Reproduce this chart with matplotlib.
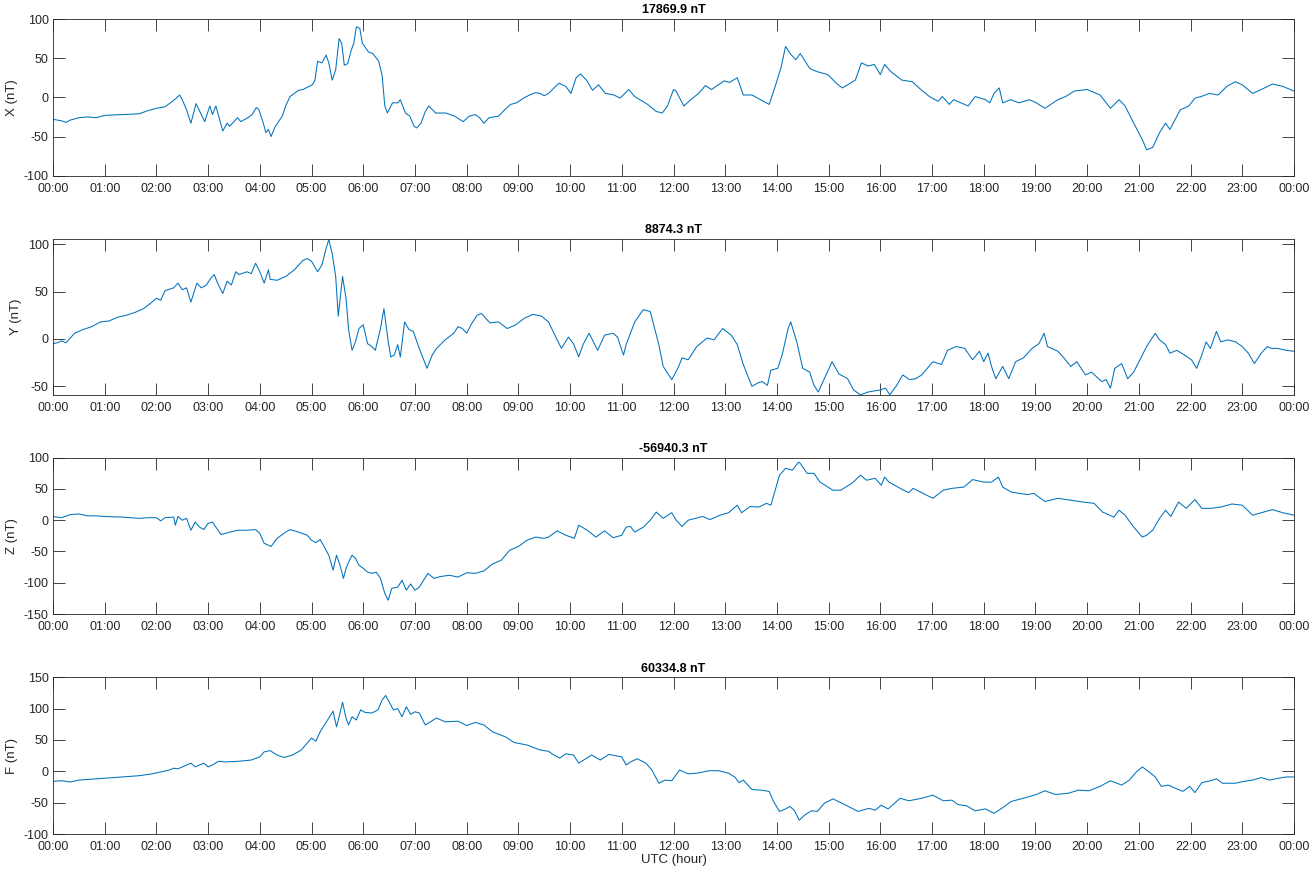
import matplotlib
matplotlib.use("Agg")
import matplotlib.pyplot as plt
import numpy as np

plt.rcParams['font.family'] = ['Liberation Sans', 'DejaVu Sans']
plt.rcParams['axes.unicode_minus'] = False

# ---------------- data ----------------
x_times = ["00:00","00:10","00:15","00:20","00:30","00:40","00:50","01:00","01:20","01:40","01:50",
           "02:00","02:10","02:15","02:20","02:27","02:30","02:35","02:40","02:46","02:56","03:02","03:05",
           "03:09","03:17","03:22","03:25","03:34","03:38","03:46","03:51","03:56","03:59","04:04","04:07",
           "04:10","04:13","04:18","04:26","04:30","04:35","04:40","04:45","04:50","04:57","05:01","05:04",
           "05:07","05:12","05:17","05:20","05:24","05:28","05:32","05:35","05:38","05:42","05:46","05:49",
           "05:52","05:56","05:59","06:06","06:11","06:18","06:22","06:25","06:28","06:34","06:40","06:43",
           "06:49","06:54","06:59","07:02","07:07","07:12","07:16","07:24","07:36","07:46","07:56","08:03",
           "08:10","08:15","08:20","08:26","08:37","08:44","08:51","08:58","09:06","09:13","09:20","09:25",
           "09:30","09:35","09:47","09:55","10:01","10:07","10:12","10:19","10:26","10:33","10:41","10:51",
           "10:58","11:08","11:15","11:30","11:40","11:47","11:53","12:00","12:03","12:10","12:12","12:20",
           "12:29","12:37","12:44","12:52","12:59","13:05","13:14","13:21","13:31","13:41","13:51","13:58",
           "14:05","14:10","14:16","14:22","14:27","14:38","14:46","14:59","15:09","15:16","15:31","15:38",
           "15:46","15:53","16:00","16:05","16:12","16:25","16:37","16:47","16:57","17:07","17:12","17:20",
           "17:25","17:42","17:50","18:02","18:07","18:12","18:18","18:22","18:31","18:41","18:53","19:01",
           "19:11","19:26","19:35","19:45","20:00","20:15","20:27","20:37","20:44","20:54","21:04","21:09",
           "21:16","21:24","21:31","21:36","21:48","21:58","22:05","22:12","22:22","22:32","22:42","22:52",
           "23:00","23:12","23:22","23:35","23:47","24:00"]
x_values = [-28,-30,-32,-29,-26,-25,-26,-23,-22,-21,-17,
            -14,-12,-8,-4,3,-3,-16,-33,-8,-31,-11,-22,
            -11,-43,-33,-37,-26,-31,-26,-22,-13,-16,-33,-45,
            -41,-50,-37,-24,-11,1,5,9,10,14,16,22,
            46,44,54,44,22,35,75,69,41,43,60,69,
            90,88,69,58,56,46,27,-11,-20,-7,-7,-3,
            -20,-24,-37,-39,-33,-18,-11,-20,-20,-24,-31,-24,
            -22,-26,-33,-26,-24,-16,-9,-7,-1,3,6,5,
            2,5,18,14,5,25,30,22,9,16,5,3,
            -1,10,1,-9,-18,-20,-11,10,8,-7,-11,-3,
            5,15,10,16,21,19,25,3,3,-3,-9,14,
            39,65,55,48,56,37,33,29,18,12,22,44,
            40,42,29,42,33,22,20,10,1,-5,1,-9,
            -3,-11,1,-3,-7,5,12,-7,-3,-7,-3,-7,
            -14,-3,1,8,10,3,-14,-3,-11,-33,-54,-67,
            -64,-45,-33,-41,-16,-11,-1,1,5,3,14,20,
            16,5,10,17,14,8]

y_times = ["00:00","00:05","00:10","00:15","00:20","00:25","00:35","00:45","00:55","01:05","01:15",
           "01:25","01:35","01:45","01:55","02:00","02:05","02:10","02:20","02:25","02:30","02:35","02:40",
           "02:47","02:52","02:58","03:03","03:07","03:12","03:17","03:22","03:27","03:32","03:36","03:45",
           "03:50","03:55","04:00","04:05","04:10","04:12","04:20","04:30","04:40","04:45","04:50","04:55",
           "05:00","05:07","05:12","05:17","05:20","05:24","05:28","05:31","05:36","05:40","05:43","05:47",
           "05:51","05:55","06:00","06:05","06:10","06:14","06:20","06:24","06:29","06:32","06:36","06:40",
           "06:43","06:48","06:53","06:58","07:05","07:14","07:20","07:25","07:35","07:45","07:50","07:55",
           "08:00","08:05","08:12","08:17","08:27","08:37","08:47","08:57","09:07","09:17","09:27","09:35",
           "09:45","09:50","09:58","10:04","10:10","10:15","10:22","10:32","10:40","10:50","10:55","11:02",
           "11:05","11:15","11:25","11:33","11:43","11:48","11:58","12:05","12:10","12:17","12:27","12:39",
           "12:47","12:57","13:07","13:14","13:21","13:31","13:39","13:43","13:49","13:53","14:01","14:06",
           "14:13","14:16","14:23","14:30","14:38","14:43","14:48","14:55","15:04","15:12","15:22","15:29",
           "15:37","15:46","15:59","16:06","16:11","16:19","16:26","16:34","16:41","16:48","17:01","17:11",
           "17:18","17:28","17:38","17:47","17:55","18:00","18:05","18:09","18:14","18:22","18:29","18:37",
           "18:46","18:56","19:04","19:10","19:14","19:26","19:33","19:41","19:48","19:58","20:05","20:17",
           "20:22","20:27","20:32","20:40","20:47","20:54","21:04","21:09","21:19","21:24","21:31","21:36",
           "21:44","21:53","22:01","22:07","22:13","22:18","22:23","22:30","22:35","22:43","22:52","23:00",
           "23:07","23:14","23:22","23:29","23:34","23:41","23:51","24:00"]
y_values = [-5,-4,-2,-4,1,6,10,13,18,19,23,
            25,28,32,39,43,41,51,54,59,52,54,39,
            59,54,57,64,68,57,48,61,57,71,68,71,
            69,80,71,59,73,63,62,66,73,78,83,85,
            82,71,78,96,105,90,66,24,66,43,10,-12,
            -3,11,15,-5,-8,-12,11,32,-3,-19,-17,-6,
            -19,18,10,8,-10,-31,-17,-10,-1,6,13,11,
            6,15,25,27,17,18,11,15,22,26,24,18,
            -1,-10,2,-5,-19,-6,6,-12,4,6,2,-17,
            -6,18,31,29,-6,-29,-43,-31,-20,-22,-8,1,
            -1,11,4,-6,-27,-50,-46,-45,-49,-33,-31,-17,
            11,18,-3,-31,-35,-49,-56,-42,-24,-37,-42,-54,
            -59,-56,-54,-52,-59,-49,-38,-43,-42,-38,-24,-27,
            -12,-8,-10,-22,-13,-24,-15,-29,-42,-29,-42,-24,
            -20,-10,-5,6,-8,-13,-20,-29,-24,-38,-35,-45,
            -43,-52,-31,-26,-42,-35,-17,-8,6,-1,-6,-15,
            -12,-17,-22,-31,-17,-3,-10,8,-3,-1,-3,-8,
            -15,-26,-15,-8,-10,-10,-12,-13]

z_times = ["00:00","00:10","00:20","00:30","00:40","00:50","01:00","01:20","01:40","01:50","02:00",
           "02:05","02:10","02:20","02:22","02:25","02:30","02:35","02:40","02:45","02:50","02:55","03:00",
           "03:05","03:10","03:15","03:25","03:35","03:45","03:55","04:00","04:05","04:10","04:13","04:20",
           "04:30","04:35","04:45","04:55","05:00","05:05","05:10","05:15","05:20","05:25","05:29","05:33",
           "05:37","05:40","05:44","05:47","05:51","05:55","06:00","06:05","06:10","06:15","06:20","06:25",
           "06:29","06:33","06:40","06:45","06:50","06:55","07:00","07:05","07:10","07:15","07:22","07:30",
           "07:40","07:50","08:00","08:10","08:20","08:30","08:40","08:50","09:00","09:10","09:20","09:30",
           "09:35","09:45","09:55","10:05","10:10","10:20","10:30","10:40","10:50","11:00","11:05","11:10",
           "11:15","11:25","11:33","11:40","11:48","11:58","12:03","12:10","12:17","12:34","12:42","12:54",
           "13:04","13:14","13:19","13:29","13:39","13:48","13:53","13:58","14:03","14:10","14:18","14:25",
           "14:27","14:35","14:43","14:50","15:05","15:14","15:27","15:37","15:44","15:54","16:01","16:05",
           "16:10","16:23","16:33","16:38","16:48","17:01","17:13","17:23","17:37","17:47","18:00","18:09",
           "18:17","18:22","18:32","18:41","18:51","18:58","19:11","19:26","19:41","19:55","20:08","20:18",
           "20:31","20:37","20:44","20:54","21:04","21:09","21:16","21:24","21:31","21:37","21:46","21:55",
           "22:05","22:13","22:23","22:35","22:48","23:00","23:12","23:22","23:35","23:47","24:00"]
z_values = [6,4,9,10,7,7,6,5,3,4,4,
            -1,4,5,-8,6,0,3,-16,-3,-11,-15,-5,
            -3,-13,-23,-19,-16,-16,-15,-21,-37,-40,-42,-29,
            -19,-15,-19,-24,-32,-36,-31,-43,-56,-80,-56,-72,
            -93,-77,-64,-56,-61,-72,-77,-83,-85,-83,-93,-117,
            -128,-109,-107,-96,-112,-102,-112,-107,-96,-85,-93,-90,
            -88,-91,-84,-85,-81,-70,-64,-48,-42,-32,-27,-29,
            -27,-17,-24,-29,-8,-16,-27,-17,-28,-24,-11,-10,
            -19,-11,0,13,3,12,0,-10,0,6,1,8,
            12,24,12,22,21,27,24,48,72,83,80,93,
            91,75,75,61,48,48,59,72,64,67,56,69,
            61,51,44,51,44,35,48,51,53,65,61,61,
            69,53,45,43,41,43,30,35,32,29,27,13,
            5,16,8,-11,-27,-24,-16,3,16,6,29,19,
            33,19,19,21,26,24,8,12,17,12,8]

f_times = ["00:00","00:10","00:20","00:30","00:40","00:50","01:00","01:20","01:40","01:55","02:05",
           "02:15","02:20","02:25","02:30","02:35","02:40","02:45","02:55","03:00","03:05","03:12","03:20",
           "03:35","03:50","04:00","04:05","04:12","04:20","04:28","04:38","04:48","04:55","05:00","05:05",
           "05:10","05:15","05:20","05:25","05:29","05:32","05:36","05:40","05:43","05:47","05:52","05:57",
           "06:02","06:10","06:17","06:22","06:26","06:30","06:35","06:40","06:45","06:50","06:55","07:00",
           "07:05","07:12","07:25","07:35","07:50","08:00","08:10","08:20","08:30","08:45","08:55","09:10",
           "09:25","09:35","09:40","09:48","09:55","10:04","10:10","10:25","10:35","10:45","11:00","11:05",
           "11:10","11:18","11:28","11:35","11:43","11:50","11:58","12:07","12:17","12:27","12:42","12:52",
           "13:04","13:11","13:16","13:21","13:31","13:41","13:51","13:56","14:03","14:10","14:15","14:20",
           "14:26","14:32","14:40","14:47","14:55","15:05","15:20","15:34","15:47","15:54","16:01","16:09",
           "16:23","16:33","16:48","17:01","17:13","17:23","17:30","17:40","17:50","18:02","18:12","18:22",
           "18:32","18:46","19:01","19:11","19:23","19:38","19:50","20:02","20:15","20:27","20:40","20:49",
           "20:57","21:04","21:12","21:19","21:26","21:34","21:44","21:51","21:59","22:05","22:13","22:23",
           "22:30","22:37","22:52","23:02","23:12","23:22","23:32","23:42","23:51","24:00"]
f_values = [-16,-15,-17,-14,-13,-12,-11,-9,-7,-4,-1,
            2,5,4,7,10,13,7,13,7,10,16,15,
            16,18,23,31,33,26,22,26,34,45,53,48,
            63,74,85,96,71,87,110,85,74,87,82,98,
            94,93,98,114,121,111,98,100,87,103,91,95,
            93,74,85,79,80,73,78,74,63,55,46,42,
            34,32,27,21,28,26,13,26,18,27,23,10,
            15,20,13,2,-19,-14,-15,2,-4,-3,1,1,
            -3,-9,-18,-14,-29,-30,-32,-48,-64,-60,-56,-62,
            -78,-70,-63,-64,-51,-44,-54,-64,-59,-62,-54,-60,
            -43,-47,-43,-38,-47,-46,-53,-55,-63,-60,-67,-58,
            -48,-43,-37,-31,-37,-35,-30,-31,-24,-15,-22,-14,
            -1,7,-1,-9,-24,-22,-28,-32,-24,-34,-18,-15,
            -12,-19,-19,-16,-14,-10,-14,-11,-9,-9]

titles = ["17869.9 nT", "8874.3 nT", "-56940.3 nT", "60334.8 nT"]
ylabels = ["X (nT)", "Y (nT)", "Z (nT)", "F (nT)"]
ylims = [(-100, 100), (-59.2, 105.6), (-150, 100), (-100, 150)]
yticks = [[-100, -50, 0, 50, 100], [-50, 0, 50, 100],
          [-150, -100, -50, 0, 50, 100], [-100, -50, 0, 50, 100, 150]]
xtick_labels = ["%02d:00" % (h % 24) for h in range(25)]


def to_hours(ts):
    return np.array([int(t[:2]) + int(t[3:]) / 60.0 for t in ts])


series = [(x_times, x_values), (y_times, y_values), (z_times, z_values), (f_times, f_values)]

# ---------------- figure ----------------
fig = plt.figure(figsize=(13.16, 8.72), dpi=100)
W, H = 1316.0, 872.0
left, right = 53.0, 1294.0
tops = [19.0, 239.0, 457.7, 677.3]
bottoms = [175.7, 395.0, 614.0, 834.0]

line_color = "#0072BD"
axis_color = "#262626"

for i, (ts, vs) in enumerate(series):
    ax = fig.add_axes([left / W, 1 - bottoms[i] / H, (right - left) / W, (bottoms[i] - tops[i]) / H])
    ax.plot(to_hours(ts), vs, color=line_color, linewidth=0.75)
    ax.set_xlim(0, 24)
    ax.set_ylim(*ylims[i])
    ax.set_xticks(range(25))
    ax.set_xticklabels(xtick_labels)
    ax.set_yticks(yticks[i])
    ax.set_yticklabels([str(v) for v in yticks[i]])
    ax.tick_params(direction="in", length=8.5, width=0.6, colors=axis_color,
                   labelsize=9, top=True, right=True)
    ax.tick_params(axis="x", pad=5)
    ax.tick_params(axis="y", pad=3)
    for s in ax.spines.values():
        s.set_color(axis_color)
        s.set_linewidth(0.6)
    ax.set_title(titles[i], fontsize=9, fontweight="bold", pad=4)
    ax.set_ylabel(ylabels[i], fontsize=9.5, color=axis_color, labelpad=4)
    if i == 3:
        ax.set_xlabel("UTC (hour)", fontsize=9.5, color=axis_color, labelpad=1)

fig.savefig("out.png", dpi=100)
